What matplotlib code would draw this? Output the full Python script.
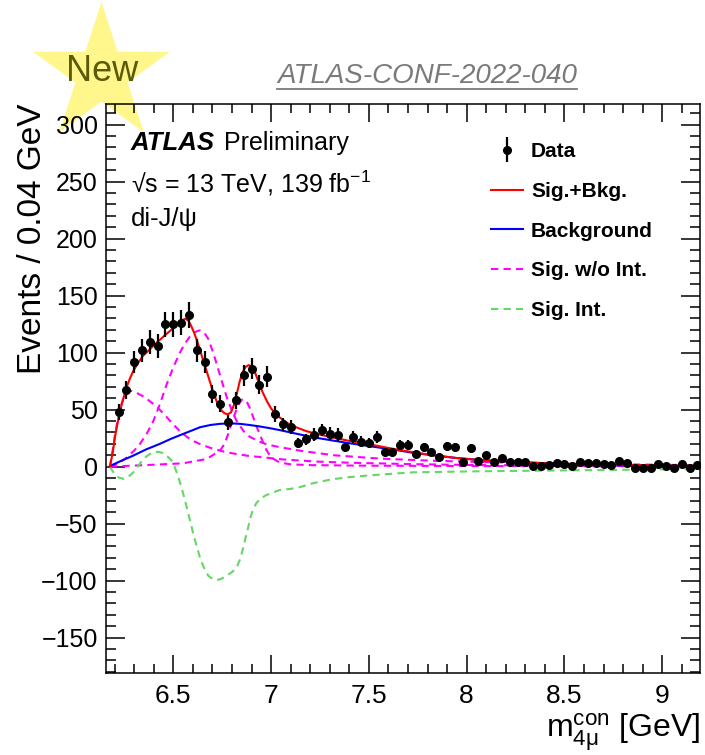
import numpy as np
import matplotlib
matplotlib.use('Agg')
import matplotlib.pyplot as plt
from matplotlib.patches import Polygon
from matplotlib.lines import Line2D
from matplotlib.ticker import MultipleLocator, FuncFormatter
from matplotlib.legend_handler import HandlerErrorbar
from matplotlib.container import ErrorbarContainer

plt.rcParams['font.family'] = ['Liberation Sans', 'DejaVu Sans']
plt.rcParams['mathtext.fontset'] = 'custom'
plt.rcParams['mathtext.rm'] = 'Liberation Sans'
plt.rcParams['mathtext.it'] = 'Liberation Sans:italic'
plt.rcParams['mathtext.bf'] = 'Liberation Sans:bold'

# ---------------- data ----------------
bin_lo = 6.20
bin_w = 0.04
data_y = [48, 67, 92, 102, 109, 106, 125, 125, 126, 133,
          102, 92, 64, 55, 39, 58, 80, 86, 72, 79,
          46, 37, 35, 21, 24, 28, 32, 29, 28, 17,
          26, 22, 21, 26, 13, 13, 19, 19, 11, 17,
          13, 8, 18, 17, 4, 16, 5, 10, 4, 7.5,
          4, 4, 4, 0.5, 0.5, 1, 3, 2, 0.5, 4,
          3, 3, 2, 1, 4.5, 3, -1, -1, -1, 2,
          0.5, -1, 2, -1, 1]
data_err = [7, 8, 9.5, 10, 10.5, 10.5, 11, 11, 11, 11.5,
            10, 9.5, 8, 7.5, 6.5, 7.5, 9, 9.5, 8.5, 9,
            7, 6, 6, 4.5, 5, 5.5, 5.5, 5.5, 5.5, 4,
            5, 4.5, 4.5, 5, 3.5, 3.5, 4.5, 4.5, 3.5, 4,
            3.5, 3, 4, 4, 2, 4, 2.2, 3, 2, 2.7,
            2, 2, 2, 1, 1, 1, 1.7, 1.4, 1, 2,
            1.7, 1.7, 1.4, 1, 2.1, 1.7, 1, 1, 1, 1.4,
            1, 1, 1.4, 1, 1]
data_x = bin_lo + bin_w * (np.arange(len(data_y)) + 0.5)

# Sig.+Bkg.
sb_x = [6.176, 6.19, 6.202, 6.215, 6.228, 6.245, 6.262, 6.28, 6.296, 6.32,
        6.347, 6.375, 6.398, 6.43, 6.466, 6.49, 6.517, 6.54, 6.56, 6.575,
        6.59, 6.605, 6.62, 6.637, 6.653, 6.67, 6.688, 6.705, 6.72, 6.735,
        6.75, 6.765, 6.78, 6.795, 6.81, 6.825, 6.84, 6.855, 6.87, 6.885,
        6.9, 6.915, 6.93, 6.945, 6.96, 6.98, 7.0, 7.02, 7.045, 7.08,
        7.12, 7.182, 7.25, 7.318, 7.40, 7.489, 7.58, 7.659, 7.75, 7.85,
        7.95, 8.05, 8.2, 8.4, 8.6, 8.8, 9.0, 9.193]
sb_y = [0, 12, 26, 38, 49, 60, 70, 78, 84, 91,
        97.5, 102, 106, 111, 116.5, 120, 125, 128, 129.5, 128.5,
        124, 118, 111, 102, 93, 84, 74, 65, 58, 52,
        48.5, 46.5, 46, 47.5, 54, 64, 75, 83, 87.5, 89,
        88, 84, 77, 70, 64, 57, 51, 47, 43, 38.5,
        35, 31, 28, 25.5, 22.5, 20, 17, 14.5, 12, 9.5,
        7.5, 6, 4.5, 3, 2, 1.5, 1, 0.6]

# Background
bkg_x = [6.176, 6.22, 6.296, 6.36, 6.432, 6.49, 6.551, 6.6, 6.636, 6.69,
         6.739, 6.79, 6.841, 6.89, 6.943, 7.0, 7.045, 7.147, 7.23, 7.318,
         7.40, 7.489, 7.58, 7.659, 7.727, 7.85, 7.95, 8.068, 8.2, 8.409,
         8.6, 8.75, 8.95, 9.193]
bkg_y = [0.5, 4, 9.7, 15, 20, 24.5, 28.7, 32, 34.5, 36.5,
         37.5, 38, 37.5, 36.5, 35.2, 33.5, 32, 28.2, 25.3, 22.8,
         20.5, 18.3, 16, 14, 12, 9.5, 7.5, 5.8, 4.4, 2.9,
         1.8, 1.2, 0.8, 0.5]

# Sig. w/o Int. : three resonance components
sig1_x = [6.176, 6.19, 6.202, 6.215, 6.228, 6.245, 6.262, 6.28, 6.296, 6.32,
          6.347, 6.375, 6.398, 6.43, 6.466, 6.50, 6.534, 6.57, 6.602, 6.64,
          6.688, 6.75, 6.807, 6.88, 6.977, 7.045, 7.147, 7.25, 7.403, 7.557,
          7.7, 7.9, 8.1, 8.4, 8.8, 9.193]
sig1_y = [0, 14, 28, 40, 51, 60, 65, 66.5, 66, 64,
          61.5, 58, 55, 50, 43.5, 37, 31, 26, 22.5, 19.5,
          16.5, 13.5, 11.5, 9.5, 7.8, 6.5, 5.3, 4.3, 3.4, 2.8,
          2.2, 1.7, 1.3, 0.9, 0.6, 0.4]
sig2_x = [6.176, 6.22, 6.262, 6.30, 6.33, 6.365, 6.398, 6.432, 6.466, 6.50,
          6.534, 6.56, 6.585, 6.61, 6.636, 6.66, 6.679, 6.70, 6.722, 6.748,
          6.773, 6.80, 6.824, 6.86, 6.892, 6.94, 6.977, 7.045, 7.147, 7.318,
          7.557, 7.8, 8.07, 8.5, 9.0, 9.193]
sig2_y = [0, 3, 8, 14, 20, 29, 40, 55, 72, 87,
          100, 108, 114, 118, 119.5, 117, 112, 102, 90, 75,
          61, 49, 40, 31, 26, 22, 19.5, 17, 14, 10,
          7, 5.3, 4, 2.6, 1.6, 1.3]
sig3_x = [6.176, 6.381, 6.551, 6.671, 6.739, 6.762, 6.781, 6.8, 6.815, 6.832,
          6.849, 6.862, 6.875, 6.892, 6.909, 6.926, 6.943, 6.96, 6.975, 7.0,
          7.045, 7.1, 7.2, 7.5, 8.0, 8.6, 9.193]
sig3_y = [0, 1.5, 2.9, 6.7, 14, 20, 28.7, 39, 46.3, 54,
          58.5, 59, 57.3, 51, 43.3, 35, 28, 21, 15, 8,
          3.5, 2, 1.3, 0.8, 0.5, 0.3, 0.2]

# Sig. Int.
int_x = [6.176, 6.19, 6.202, 6.22, 6.245, 6.27, 6.296, 6.32, 6.347, 6.375,
         6.398, 6.425, 6.449, 6.47, 6.492, 6.51, 6.526, 6.54, 6.551, 6.565,
         6.577, 6.59, 6.602, 6.62, 6.636, 6.655, 6.679, 6.70, 6.722, 6.745,
         6.773, 6.80, 6.824, 6.842, 6.858, 6.87, 6.883, 6.895, 6.909, 6.925,
         6.943, 6.975, 7.011, 7.045, 7.097, 7.147, 7.216, 7.30, 7.386, 7.557,
         7.727, 8.068, 8.409, 8.75, 9.193]
int_y = [0, -4, -6.5, -9.5, -10.8, -9, -5, 0.5, 6.7, 10.5,
         12.6, 13, 11.7, 9, 5.3, -1.5, -9.4, -17, -24, -33,
         -41.5, -50, -59, -70, -79.6, -88, -95.7, -98.5, -99.5, -98.5,
         -95.7, -92.5, -88.4, -81, -70.9, -62, -53.3, -44, -37.1, -32,
         -28.4, -25, -22.6, -20.5, -19.6, -18, -14.5, -11.5, -9.4, -7,
         -5, -4.1, -3.5, -2.9, -2]

legend_labels = ['Data', 'Sig.+Bkg.', 'Background', 'Sig. w/o Int.', 'Sig. Int.']

# ---------------- figure ----------------
W, H = 705, 755
fig = plt.figure(figsize=(W / 100, H / 100), dpi=100)


def F(px, py):
    return (px / W, 1 - py / H)


# "New" star (decoration)
cx, cy, R = 101.5, 74, 72
ang = np.pi / 2 + np.arange(10) * np.pi / 5
rad = np.where(np.arange(10) % 2 == 0, R, R * 0.382)
star_pts = [F(cx + r * np.cos(a), cy - r * np.sin(a)) for r, a in zip(rad, ang)]
star = Polygon(star_pts, closed=True, transform=fig.transFigure,
               facecolor='#fff68c', edgecolor='none', zorder=-1)
fig.add_artist(star)
fig.text(*F(102, 81), 'New', ha='center', va='baseline', fontsize=26,
         color='#5a5a08', zorder=5)

# ATLAS-CONF label with underline
conf = fig.text(*F(427, 83), 'ATLAS-CONF-2022-040', ha='center', va='baseline',
                fontsize=20, style='italic', color='#7a7a7a')

ax = fig.add_axes([106 / W, 1 - 673 / H, (700 - 106) / W, (673 - 104) / H])
ax.set_facecolor('none')

dash = (0, (3.5, 2.5))
ax.plot(sig1_x, sig1_y, color='#ff00ff', lw=1.5, ls=dash, zorder=2)
ax.plot(sig2_x, sig2_y, color='#ff00ff', lw=1.5, ls=dash, zorder=2)
ax.plot(sig3_x, sig3_y, color='#ff00ff', lw=1.5, ls=dash, zorder=2)
l_int, = ax.plot(int_x, int_y, color='#66d666', lw=1.5, ls=dash, zorder=2)
l_bkg, = ax.plot(bkg_x, bkg_y, color='#0000ff', lw=1.5, zorder=3)
l_sb, = ax.plot(sb_x, sb_y, color='#ff0000', lw=1.5, zorder=3)
l_sig = Line2D([], [], color='#ff00ff', lw=1.5, ls=dash)
eb = ax.errorbar(data_x, data_y, yerr=data_err, fmt='o', color='black',
                 ms=5.5, elinewidth=1.6, capsize=0, zorder=4)

ax.set_xlim(6.156, 9.193)
ax.set_ylim(-181, 318)
ax.xaxis.set_major_locator(MultipleLocator(0.5))
ax.xaxis.set_minor_locator(MultipleLocator(0.1))
ax.yaxis.set_major_locator(MultipleLocator(50))
ax.yaxis.set_minor_locator(MultipleLocator(10))
ax.xaxis.set_major_formatter(FuncFormatter(lambda v, p: f'{v:g}'))
ax.tick_params(which='both', direction='in', top=True, right=True, width=1.1)
ax.tick_params(axis='x', which='major', length=12.7, labelsize=19, pad=8)
ax.tick_params(axis='x', which='minor', length=6.3)
ax.tick_params(axis='y', which='major', length=13.7, labelsize=18, pad=6)
ax.tick_params(axis='y', which='minor', length=7.5)
for s in ax.spines.values():
    s.set_linewidth(1.1)

fig.text(*F(33, 104), 'Events / 0.04 GeV', rotation=90, ha='center', va='top',
         fontsize=24)
fig.text(*F(700, 737), r'm$^{\mathregular{con}}_{\mathregular{4\mu}}$ [GeV]',
         ha='right', va='baseline', fontsize=23)

fig.text(*F(131, 150), 'ATLAS', fontsize=18.5, weight='bold', style='italic',
         va='baseline')
fig.text(*F(224, 150), 'Preliminary', fontsize=18, va='baseline')
fig.text(*F(131, 193), '\u221as = 13 TeV, 139 fb$^{\\mathregular{-1}}$',
         fontsize=18, va='baseline')
fig.text(*F(131, 226), 'di-J/\u03c8', fontsize=18.5, va='baseline')

ax.legend([eb, l_sb, l_bkg, l_sig, l_int], legend_labels,
          loc='upper left', bbox_to_anchor=F(491, 142),
          bbox_transform=fig.transFigure, frameon=False,
          prop={'weight': 'bold', 'size': 15}, handlelength=1.55,
          handletextpad=0.37, labelspacing=1.0, borderpad=0,
          borderaxespad=0,
          handler_map={ErrorbarContainer: HandlerErrorbar(yerr_size=0.6)})

fig.canvas.draw()
bb = conf.get_window_extent().transformed(fig.transFigure.inverted())
fig.add_artist(Line2D([bb.x0, bb.x1], [bb.y0 + 0.5 / H, bb.y0 + 0.5 / H],
                      transform=fig.transFigure, color='#7a7a7a', lw=1.3))

fig.savefig('out.png', dpi=100)
